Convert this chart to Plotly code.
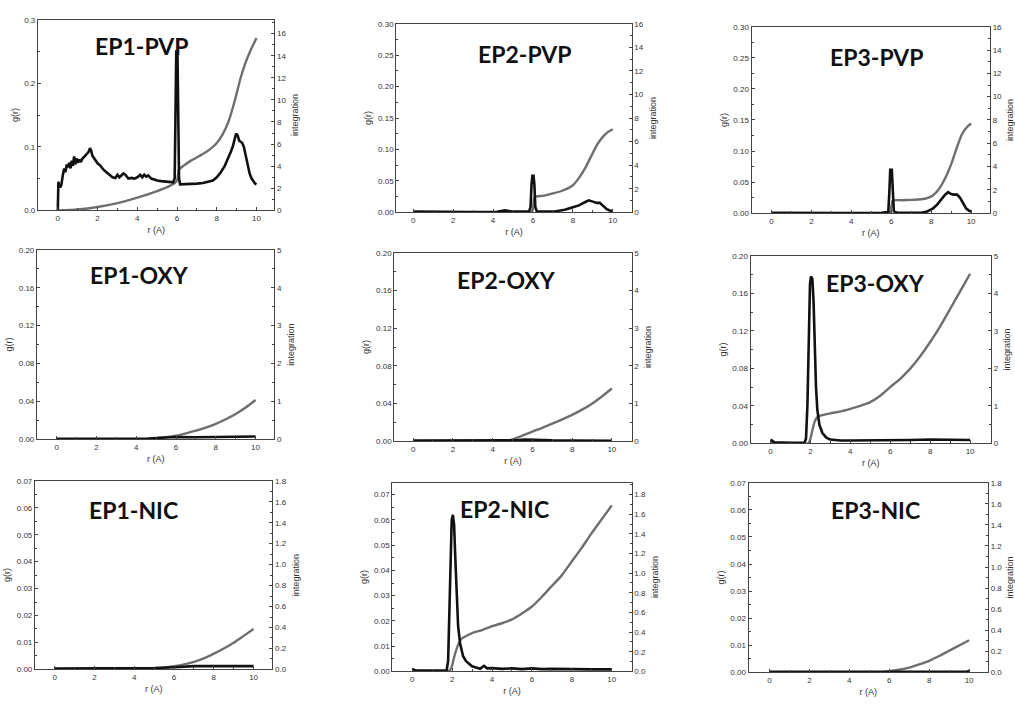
import plotly.graph_objects as go

# Radial distribution g(r) (black) and running integration (grey) for
# three epoxy systems (EP1-EP3) against PVP, OXY and NIC.

PANEL_NAMES = ["EP1-PVP", "EP2-PVP", "EP3-PVP",
               "EP1-OXY", "EP2-OXY", "EP3-OXY",
               "EP1-NIC", "EP2-NIC", "EP3-NIC"]

# (r, g(r)) points
EP1_PVP_G = [(0.0, 0.0), (0.03, 0.045), (0.06, 0.040), (0.12, 0.036), (0.18, 0.040), (0.25, 0.055),
             (0.32, 0.066), (0.38, 0.060), (0.45, 0.072), (0.52, 0.068), (0.58, 0.075), (0.64, 0.066),
             (0.70, 0.078), (0.76, 0.070), (0.82, 0.085), (0.88, 0.072), (0.94, 0.082), (1.00, 0.075),
             (1.08, 0.080), (1.16, 0.076), (1.25, 0.082), (1.35, 0.085), (1.45, 0.088), (1.55, 0.092),
             (1.62, 0.098), (1.68, 0.094), (1.74, 0.086), (1.80, 0.083), (1.90, 0.080), (2.00, 0.074),
             (2.15, 0.070), (2.30, 0.064), (2.45, 0.060), (2.60, 0.056), (2.75, 0.052), (2.90, 0.051),
             (3.00, 0.056), (3.10, 0.052), (3.20, 0.055), (3.30, 0.058), (3.40, 0.056), (3.55, 0.050),
             (3.70, 0.051), (3.85, 0.050), (4.00, 0.052), (4.15, 0.056), (4.25, 0.052), (4.35, 0.056),
             (4.45, 0.053), (4.55, 0.055), (4.70, 0.050), (4.85, 0.048), (5.00, 0.047), (5.20, 0.046),
             (5.40, 0.045), (5.60, 0.044), (5.80, 0.044), (5.88, 0.050), (5.92, 0.180), (5.96, 0.250),
             (6.02, 0.250), (6.06, 0.180), (6.10, 0.050), (6.15, 0.041), (6.40, 0.041), (6.70, 0.042),
             (7.00, 0.042), (7.30, 0.043), (7.60, 0.045), (7.80, 0.047), (8.00, 0.052), (8.20, 0.060),
             (8.40, 0.070), (8.55, 0.080), (8.70, 0.092), (8.80, 0.100), (8.90, 0.112), (8.97, 0.121),
             (9.05, 0.118), (9.12, 0.110), (9.20, 0.108), (9.28, 0.106), (9.36, 0.100), (9.45, 0.088),
             (9.55, 0.072), (9.65, 0.058), (9.75, 0.050), (9.85, 0.045), (9.93, 0.042), (10.0, 0.041)]
EP2_PVP_G = [(0.0, 0.001), (1.0, 0.0005), (2.0, 0.0005), (3.0, 0.0005), (4.2, 0.0008), (4.4, 0.002),
             (4.6, 0.003), (4.8, 0.002), (5.0, 0.001), (5.8, 0.001), (5.88, 0.008), (5.93, 0.045),
             (5.97, 0.058), (6.03, 0.058), (6.07, 0.045), (6.12, 0.008), (6.2, 0.001), (7.0, 0.001),
             (7.3, 0.002), (7.6, 0.004), (8.0, 0.008), (8.3, 0.011), (8.6, 0.016), (8.8, 0.019),
             (9.0, 0.017), (9.2, 0.015), (9.35, 0.015), (9.5, 0.010), (9.7, 0.005), (9.85, 0.003),
             (10.0, 0.002)]
EP3_PVP_G = [(0.0, 0.001), (2.0, 0.0005), (4.0, 0.0005), (5.5, 0.001), (5.85, 0.002), (5.9, 0.03),
             (5.95, 0.07), (6.03, 0.07), (6.08, 0.03), (6.13, 0.003), (6.3, 0.001), (7.5, 0.001),
             (7.8, 0.003), (8.1, 0.008), (8.3, 0.014), (8.5, 0.022), (8.7, 0.030), (8.85, 0.034),
             (9.0, 0.031), (9.15, 0.030), (9.3, 0.030), (9.45, 0.025), (9.6, 0.016), (9.75, 0.008),
             (9.9, 0.004), (10.0, 0.003)]
EP1_OXY_G = [(0.0, 0.0005), (4.5, 0.0005), (5.0, 0.0015), (5.5, 0.002), (6.0, 0.0025), (7.0, 0.0022),
             (8.0, 0.0026), (9.0, 0.0028), (10.0, 0.003)]
EP2_OXY_G = [(0.0, 0.0008), (4.5, 0.0005), (5.2, 0.0012), (5.6, 0.002), (6.0, 0.0015), (7.0, 0.001),
             (8.0, 0.0008), (10.0, 0.0006)]
EP3_OXY_G = [(0.0, 0.004), (0.2, 0.001), (1.0, 0.0005), (1.7, 0.0005), (1.78, 0.005), (1.85, 0.04),
             (1.92, 0.11), (1.98, 0.17), (2.03, 0.178), (2.1, 0.175), (2.16, 0.15), (2.22, 0.10),
             (2.28, 0.06), (2.35, 0.035), (2.45, 0.02), (2.6, 0.011), (2.8, 0.006), (3.0, 0.004),
             (3.5, 0.003), (4.0, 0.003), (5.0, 0.003), (6.0, 0.0035), (7.0, 0.0035), (8.0, 0.004),
             (9.0, 0.0038), (10.0, 0.0036)]
EP1_NIC_G = [(0.0, 0.0003), (4.5, 0.0003), (5.0, 0.0005), (6.0, 0.0008), (7.0, 0.0012), (8.0, 0.0012),
             (9.0, 0.0013), (9.5, 0.0012), (10.0, 0.0012)]
EP2_NIC_G = [(0.0, 0.001), (0.2, 0.0003), (1.0, 0.0003), (1.72, 0.0003), (1.8, 0.004), (1.86, 0.025),
             (1.92, 0.048), (1.98, 0.06), (2.04, 0.062), (2.1, 0.058), (2.16, 0.045), (2.22, 0.03),
             (2.3, 0.018), (2.4, 0.011), (2.55, 0.006), (2.7, 0.004), (2.85, 0.003), (3.0, 0.002),
             (3.2, 0.0015), (3.4, 0.001), (3.6, 0.0022), (3.75, 0.0012), (4.0, 0.0013), (4.5, 0.001),
             (5.0, 0.0012), (5.5, 0.0009), (6.0, 0.0012), (6.5, 0.0009), (7.0, 0.001), (7.5, 0.0008),
             (8.0, 0.0009), (9.0, 0.0008), (10.0, 0.0008)]
EP3_NIC_G = [(0.0, 0.0002), (5.0, 0.0002), (9.9, 0.0002), (10.0, 0.0006)]

# (r, integration) points
EP1_PVP_N = [(0.0, 0.0), (1.0, 0.08), (2.0, 0.3), (3.0, 0.65), (4.0, 1.15), (5.0, 1.75), (5.5, 2.1),
             (5.9, 2.5), (6.0, 2.7), (6.1, 3.7), (6.3, 4.0), (6.7, 4.5), (7.2, 5.0), (7.6, 5.45),
             (8.0, 6.1), (8.3, 6.9), (8.6, 8.1), (8.9, 9.9), (9.2, 12.0), (9.45, 13.4), (9.7, 14.5),
             (10.0, 15.6)]
EP2_PVP_N = [(0.0, 0.0), (5.9, 0.0), (6.0, 0.3), (6.08, 1.3), (6.5, 1.4), (7.0, 1.6), (7.5, 1.85),
             (8.0, 2.3), (8.3, 2.9), (8.6, 3.7), (8.9, 4.7), (9.2, 5.7), (9.5, 6.4), (9.75, 6.8),
             (10.0, 7.05)]
EP3_PVP_N = [(0.0, 0.0), (5.9, 0.0), (6.0, 0.5), (6.08, 1.1), (6.5, 1.12), (7.0, 1.15), (7.5, 1.2),
             (7.8, 1.3), (8.1, 1.55), (8.4, 2.1), (8.7, 3.0), (9.0, 4.2), (9.3, 5.7), (9.55, 6.8),
             (9.8, 7.4), (10.0, 7.7)]
EP1_OXY_N = [(0.0, 0.0), (4.4, 0.0), (5.0, 0.03), (5.5, 0.06), (6.0, 0.1), (6.5, 0.16), (7.0, 0.23),
             (7.5, 0.31), (8.0, 0.41), (8.5, 0.53), (9.0, 0.67), (9.5, 0.84), (10.0, 1.04)]
EP2_OXY_N = [(0.0, 0.0), (4.6, 0.0), (5.0, 0.05), (5.5, 0.15), (6.0, 0.26), (6.5, 0.36), (7.0, 0.47),
             (7.5, 0.58), (8.0, 0.7), (8.5, 0.84), (9.0, 1.0), (9.5, 1.19), (10.0, 1.4)]
EP3_OXY_N = [(0.0, 0.0), (1.9, 0.0), (2.0, 0.12), (2.1, 0.35), (2.2, 0.55), (2.3, 0.67), (2.45, 0.73),
             (3.0, 0.8), (3.5, 0.85), (4.0, 0.92), (4.5, 1.0), (5.0, 1.1), (5.5, 1.27), (6.0, 1.5),
             (6.5, 1.72), (7.0, 1.99), (7.5, 2.32), (8.0, 2.7), (8.5, 3.12), (9.0, 3.58), (9.5, 4.05),
             (10.0, 4.52)]
EP1_NIC_N = [(0.0, 0.0), (4.5, 0.0), (5.0, 0.008), (5.5, 0.016), (6.0, 0.03), (6.5, 0.048),
             (7.0, 0.072), (7.5, 0.105), (8.0, 0.15), (8.5, 0.2), (9.0, 0.255), (9.5, 0.32),
             (10.0, 0.385)]
EP2_NIC_N = [(0.0, 0.0), (1.8, 0.0), (1.95, 0.03), (2.05, 0.1), (2.15, 0.18), (2.3, 0.27), (2.45, 0.33),
             (2.7, 0.36), (3.0, 0.39), (3.5, 0.42), (4.0, 0.46), (4.5, 0.49), (5.0, 0.53), (5.5, 0.59),
             (6.0, 0.66), (6.5, 0.76), (7.0, 0.87), (7.5, 0.98), (8.0, 1.12), (8.5, 1.26), (9.0, 1.41),
             (9.5, 1.55), (10.0, 1.69)]
EP3_NIC_N = [(0.0, 0.0), (5.5, 0.0), (6.0, 0.01), (6.5, 0.025), (7.0, 0.045), (7.5, 0.075),
             (8.0, 0.11), (8.5, 0.155), (9.0, 0.205), (9.5, 0.255), (10.0, 0.305)]

G_SERIES = [EP1_PVP_G, EP2_PVP_G, EP3_PVP_G, EP1_OXY_G, EP2_OXY_G, EP3_OXY_G,
            EP1_NIC_G, EP2_NIC_G, EP3_NIC_G]
N_SERIES = [EP1_PVP_N, EP2_PVP_N, EP3_PVP_N, EP1_OXY_N, EP2_OXY_N, EP3_OXY_N,
            EP1_NIC_N, EP2_NIC_N, EP3_NIC_N]

# axis scales per panel
X_TICKS = [0, 2, 4, 6, 8, 10]
G_RANGES = [[0, 0.3], [0, 0.3], [0, 0.3], [0, 0.2], [0, 0.2], [0, 0.2], [0, 0.07], [0, 0.0747], [0, 0.07]]
G_DTICK = [0.1, 0.05, 0.05, 0.04, 0.04, 0.04, 0.01, 0.01, 0.01]
G_FMT = [".1f", ".2f", ".2f", ".2f", ".2f", ".2f", ".2f", ".2f", ".2f"]
N_RANGES = [[0, 17.25], [0, 16], [0, 16], [0, 5], [0, 5], [0, 5], [0, 1.8], [0, 1.92], [0, 1.8]]
N_DTICK = [2, 2, 2, 1, 1, 1, 0.2, 0.2, 0.2]
N_FMT = ["d", "d", "d", "d", "d", "d", ".1f", ".1f", ".1f"]
X_RANGES = [[-1.0, 10.9], [-0.85, 10.95], [-1.0, 10.95],
            [-1.0, 10.95], [-0.95, 11.0], [-1.0, 11.05],
            [-1.0, 10.95], [-1.0, 11.0], [-1.05, 10.95]]

# panel frames in pixels: left, right, top, bottom
W, H = 1015, 705
FRAMES = [(38, 275, 16, 209), (397, 633, 20, 211), (753, 992, 23, 212),
          (37, 275, 249, 441), (395, 633, 252, 443), (752, 993, 255, 445),
          (35, 273, 483, 674), (393, 633, 485, 676), (750, 990, 485, 677)]
TITLE_POS = [(142, 43), (526, 51), (879, 54), (140, 275), (508, 280), (877, 283),
             (134, 513), (505, 512), (877, 513)]

BLACK = "#111111"
GREY = "#6e6e6e"
AXIS = "#444444"
TICK_FONT = dict(family="Liberation Sans, Arial, sans-serif", size=8, color="#333333")
TITLE_FONT = dict(family="Liberation Sans, Arial, sans-serif", size=9, color="#333333")

fig = go.Figure()
layout = dict(width=W, height=H, margin=dict(l=0, r=0, t=0, b=0),
              paper_bgcolor="white", plot_bgcolor="white", showlegend=False,
              annotations=[])

for i in range(9):
    k = i + 1
    xa = "x" if k == 1 else f"x{k}"
    yn = 2 * i + 1          # integration axis (right)
    yg = 2 * i + 2          # g(r) axis (left), drawn on top
    ya_n = "y" if yn == 1 else f"y{yn}"
    ya_g = f"y{yg}"
    left, right, top, bottom = FRAMES[i]

    rn, vn = zip(*N_SERIES[i])
    rg, vg = zip(*G_SERIES[i])
    fig.add_trace(go.Scatter(x=rn, y=vn, xaxis=xa, yaxis=ya_n, mode="lines",
                             line=dict(color=GREY, width=2.4, shape="spline", smoothing=0.6),
                             hoverinfo="skip"))
    fig.add_trace(go.Scatter(x=rg, y=vg, xaxis=xa, yaxis=ya_g, mode="lines",
                             line=dict(color=BLACK, width=2.6), hoverinfo="skip"))

    axis_common = dict(showgrid=False, zeroline=False, showline=True, linecolor=AXIS,
                       linewidth=1, ticks="inside", ticklen=3, tickcolor=AXIS,
                       tickfont=TICK_FONT, title_font=TITLE_FONT)
    layout["xaxis" if k == 1 else f"xaxis{k}"] = dict(
        axis_common, domain=[left / W, right / W], anchor=ya_n, range=X_RANGES[i],
        tickvals=X_TICKS, mirror=True, title=dict(text="r (A)", standoff=4),
        minor=dict(ticks="inside", ticklen=2, dtick=1, tickcolor=AXIS))
    layout["yaxis" if yn == 1 else f"yaxis{yn}"] = dict(
        axis_common, domain=[1 - bottom / H, 1 - top / H], anchor=xa, side="right",
        range=N_RANGES[i], dtick=N_DTICK[i], tick0=0, tickformat=N_FMT[i],
        title=dict(text="integration", standoff=6),
        minor=dict(ticks="inside", ticklen=2, dtick=N_DTICK[i] / 2, tickcolor=AXIS))
    layout[f"yaxis{yg}"] = dict(
        axis_common, anchor=xa, overlaying=ya_n, side="left",
        range=G_RANGES[i], dtick=G_DTICK[i], tick0=0, tickformat=G_FMT[i],
        title=dict(text="g(r)", standoff=4),
        minor=dict(ticks="inside", ticklen=2, dtick=G_DTICK[i] / 2, tickcolor=AXIS))

    tx, ty = TITLE_POS[i]
    layout["annotations"].append(dict(
        text=f"<b>{PANEL_NAMES[i]}</b>", x=tx / W, y=1 - ty / H, xref="paper", yref="paper",
        xanchor="center", yanchor="middle", showarrow=False,
        font=dict(family="Lato, Open Sans, sans-serif", size=23, color="#111111")))

fig.update_layout(**layout)
fig.write_html("out.html")
